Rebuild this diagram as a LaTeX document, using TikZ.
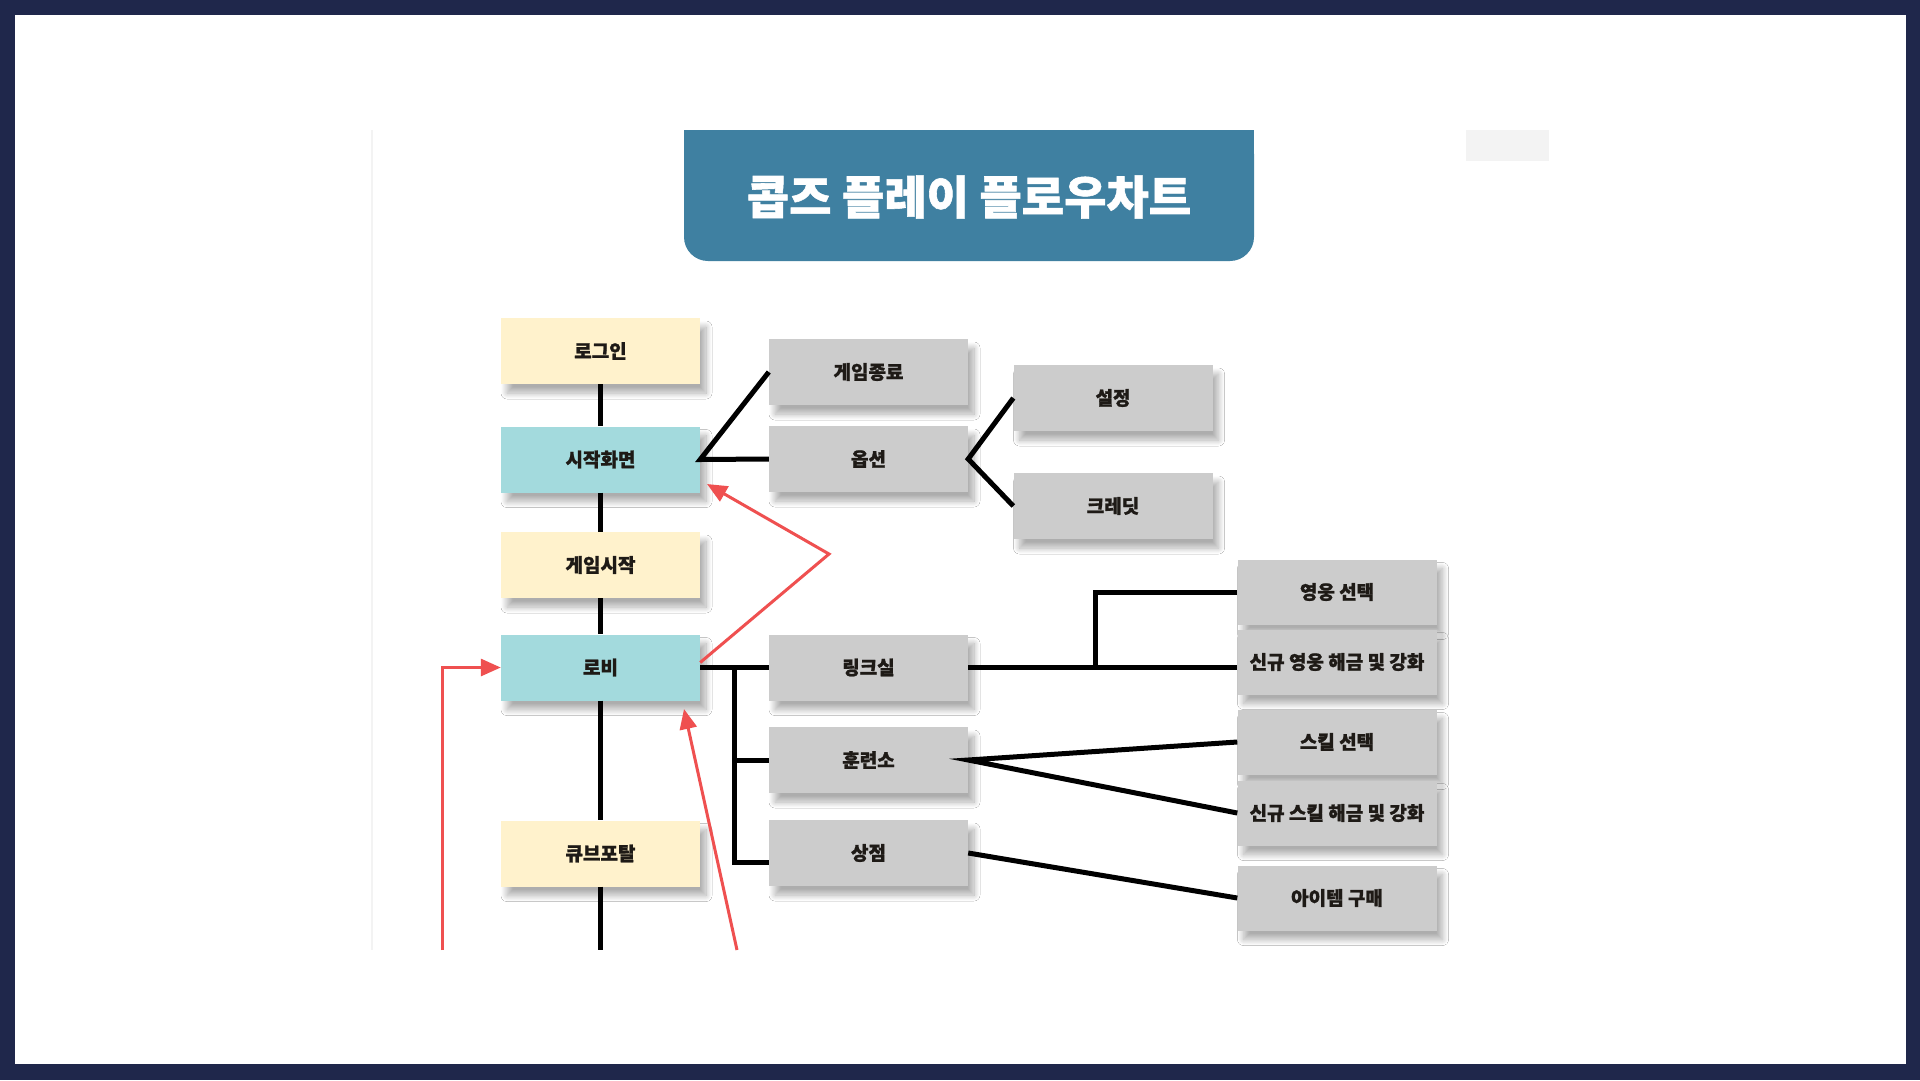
\documentclass[tikz,border=0pt]{standalone}
\usepackage{fontspec}
\newfontfamily\kr{Noto Sans CJK KR}[BoldFeatures={FakeBold=1.2}]
\usetikzlibrary{arrows.meta,shadows.blur}
\definecolor{navy}{HTML}{1F274B}
\definecolor{titlebl}{HTML}{3F80A1}
\definecolor{ylwbx}{HTML}{FFF2CC}
\definecolor{tealbx}{HTML}{A3DADD}
\definecolor{grybx}{HTML}{CCCCCC}
\definecolor{redc}{HTML}{EF5050}
\definecolor{faint}{HTML}{F3F3F3}
\definecolor{txt}{HTML}{1E1A16}
\begin{document}
\begin{tikzpicture}[x=1pt,y=-1pt,
  box/.style={minimum width=199pt, minimum height=66pt, inner sep=0pt,
    font=\kr\bfseries\fontsize{19}{21}\selectfont, text=txt,
    blur shadow={shadow xshift=6pt, shadow yshift=-9pt, shadow blur radius=6pt, shadow blur steps=12, shadow opacity=32}},
  ybox/.style={box, fill=ylwbx},
  tbox/.style={box, fill=tealbx},
  gbox/.style={box, fill=grybx},
  link/.style={line width=5pt, black},
  ret/.style={line width=3pt, redc, -{Triangle[length=20pt,width=17pt]}}]
\useasboundingbox (0,0) rectangle (1920,1080);
% frame
\fill[navy] (0,0) rectangle (1920,1080);
\fill[white] (15,15) rectangle (1906,1064);
\draw[faint, line width=1.5pt] (372,130) -- (372,950);
\fill[faint] (1466,130) rectangle (1549,161);
% title
\fill[titlebl, rounded corners=24pt] (684,130) rectangle (1254,261);
\fill[titlebl] (684,130) rectangle (1254,190);
\node[font=\kr\bfseries\fontsize{46}{50}\selectfont, text=white] (title) at (969,197) {콥즈 플레이 플로우차트};
% main column
\node[ybox] (login) at (600.5,351) {로그인};
\node[tbox] (start) at (600.5,459.5) {시작화면};
\node[ybox] (gstart) at (600.5,565) {게임시작};
\node[tbox] (lobby) at (600.5,667.5) {로비};
\node[ybox] (cube) at (600.5,853.5) {큐브포탈};
% second column
\node[gbox] (gend) at (868.5,372) {게임종료};
\node[gbox] (option) at (868.5,459) {옵션};
\node[gbox] (link) at (868.5,667.5) {링크실};
\node[gbox] (train) at (868.5,760) {훈련소};
\node[gbox] (shop) at (868.5,853) {상점};
% third column
\node[gbox] (setting) at (1113,398) {설정};
\node[gbox] (credit) at (1113,506) {크레딧};
% right column
\node[gbox, minimum height=65pt] (hero) at (1337,592) {영웅 선택};
\node[gbox, minimum height=65pt] (newhero) at (1337,662) {신규 영웅 해금 및 강화};
\node[gbox, minimum height=65pt] (skill) at (1337,742) {스킬 선택};
\node[gbox, minimum height=65pt] (newskill) at (1337,813) {신규 스킬 해금 및 강화};
\node[gbox, minimum height=65pt] (item) at (1337,898) {아이템 구매};
% coordinates
\coordinate (cubeend) at (600.5,950);
\coordinate (bustop) at (734,667.5);
\coordinate (busbot) at (734,862);
\coordinate (heroj) at (1095,667.5);
\coordinate (apex) at (829,554);
\coordinate (tip1) at (707,484);
\coordinate (r2s) at (737,950);
\coordinate (r2t) at (684,709);
\coordinate (r3s) at (442,950);
% black connectors
\draw[link] (login) -- (start);
\draw[link] (start) -- (gstart);
\draw[link] (gstart) -- (lobby);
\draw[link] (lobby) -- (cube);
\draw[link] (cube) -- (cubeend);
\draw[link] (gend.west) -- (start.east) -- (option.west);
\draw[link] (setting.west) -- (option.east) -- (credit.west);
\draw[link] (lobby.east) -- (link.west);
\draw[link] (bustop) -- (busbot) -- ([yshift=-9pt]shop.west);
\draw[link] (bustop |- train.west) -- (train.west);
\draw[link] (link.east) -- (newhero.west |- link.east);
\draw[link] (heroj) |- (hero.west);
\draw[link] (skill.west) -- (train.east) -- (newskill.west);
\draw[link] (shop.east) -- (item.west);
% red return arrows
\draw[ret] ([yshift=5pt]lobby.east) -- (apex) -- (tip1);
\draw[ret] (r2s) -- (r2t);
\draw[ret] (r3s) |- (lobby.west);
\end{tikzpicture}
\end{document}
